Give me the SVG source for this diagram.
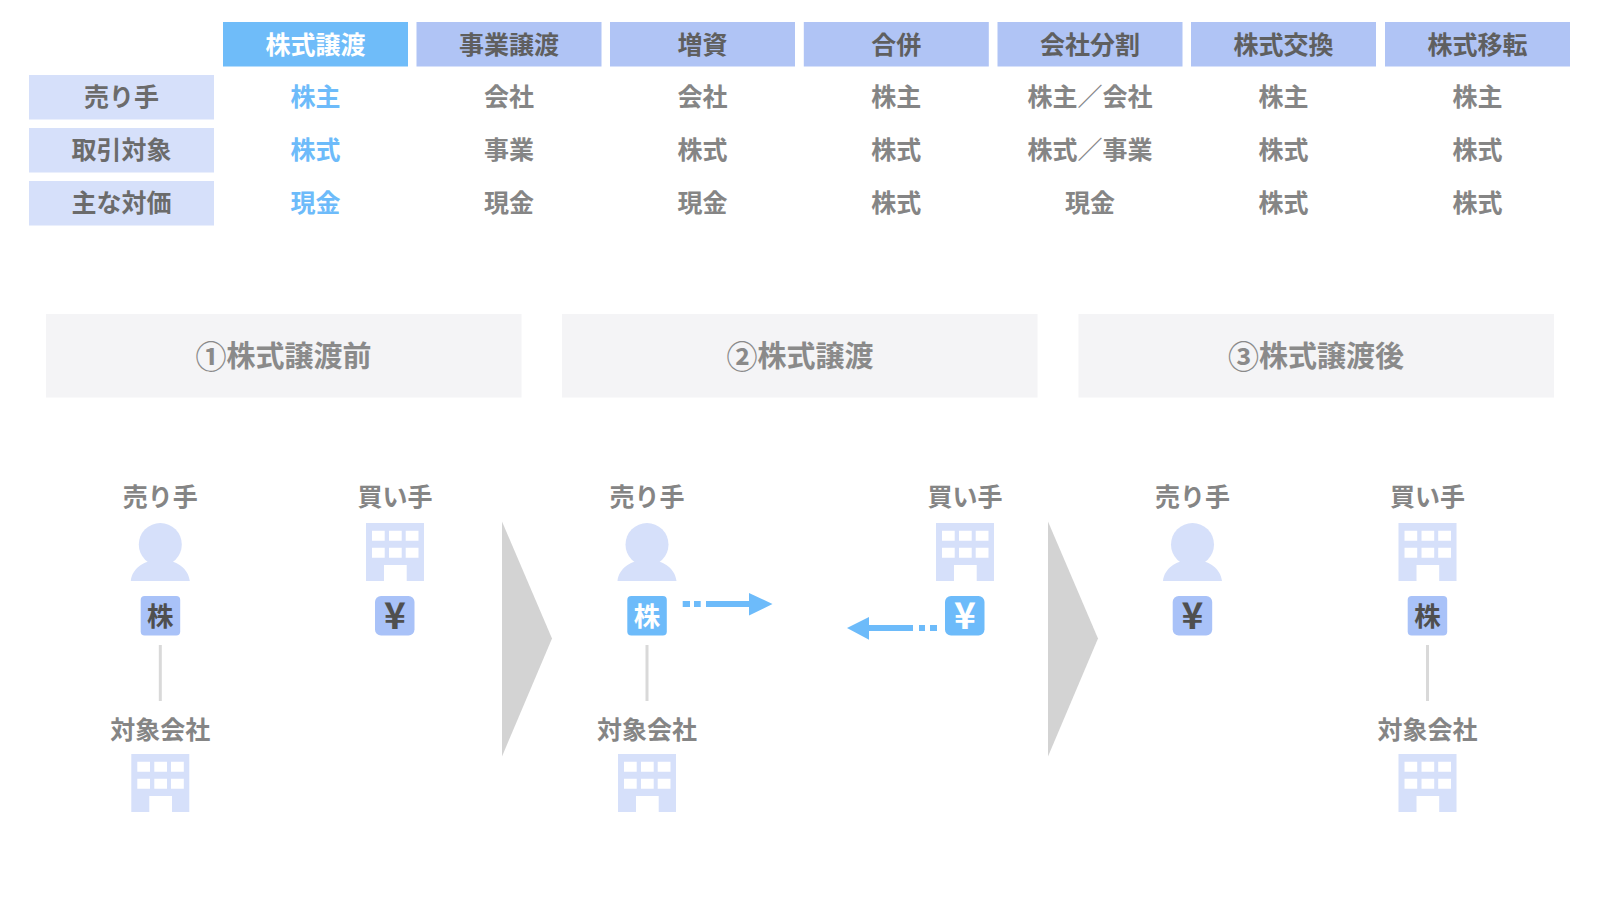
<svg xmlns="http://www.w3.org/2000/svg" xmlns:xlink="http://www.w3.org/1999/xlink" width="1600" height="900" viewBox="0 0 1600 900">
<style>
text{font-family:"Noto Sans CJK JP","Liberation Sans",sans-serif;font-weight:700;text-anchor:middle;dominant-baseline:central}
.h{font-size:25px;fill:#5f5f5f}
.hw{font-size:25px;fill:#fff}
.r{font-size:25px;fill:#6b6b6b}
.c{font-size:25px;fill:#858585}
.b{font-size:25px;fill:#6dbbfa}
.t{font-size:29px;fill:#8a8a8a}
.t tspan{font-size:31px}
.n{font-size:25px;fill:#858585}
.bd{font-size:26.500px;fill:#4f4f4f}
.bw{font-size:26.500px;fill:#fff}
.y{font-size:37px}
.hd{fill:#b0c4f5}
.hb{fill:#6fbcf9}
.rl{fill:#d6e0fa}
.p{fill:#f4f4f6}
.ch{fill:#d3d3d3}
.line{stroke:#d9d9d9;stroke-width:3;fill:none}
.bg1{fill:#a9c2f8}
.bg2{fill:#6dbbfa}
.ar{fill:#6dbbfa}
</style>
<defs>
<g id="person"><circle cx="0" cy="21.5" r="21.5" fill="#d6e0fa"/><path d="M-29.5 58C-28 45-16 38.500-7 37.500Q0 41 7 37.500C16 38.500 28 45 29.500 58Z" fill="#d6e0fa"/></g>
<g id="bldg"><path fill-rule="evenodd" fill="#d6e0fa" d="M-29 0H29V58H11.700V42H-11V58H-29ZM-23 7.700V17.700H-10.300V7.700ZM-6 7.700V17.700H6.700V7.700ZM10.700 7.700V17.700H23.500V7.700ZM-23 24.700V34.700H-10.300V24.700ZM-6 24.700V34.700H6.700V24.700ZM10.700 24.700V34.700H23.500V24.700Z"/></g>
<path id="chev" d="M0 0L50 117L0 235Z" class="ch"/>
</defs>
<g id="table">
<g id="headers">
<rect class="hb" x="223" y="22" width="185" height="44.500"/><text class="hw" x="315.500" y="42.500">株式譲渡</text>
<rect class="hd" x="416.500" y="22" width="185" height="44.500"/><text class="h" x="509" y="42.500">事業譲渡</text>
<rect class="hd" x="610" y="22" width="185" height="44.500"/><text class="h" x="702.500" y="42.500">増資</text>
<rect class="hd" x="803.800" y="22" width="185" height="44.500"/><text class="h" x="896.300" y="42.500">合併</text>
<rect class="hd" x="997.500" y="22" width="185" height="44.500"/><text class="h" x="1090" y="42.500">会社分割</text>
<rect class="hd" x="1191" y="22" width="185" height="44.500"/><text class="h" x="1283.500" y="42.500">株式交換</text>
<rect class="hd" x="1385" y="22" width="185" height="44.500"/><text class="h" x="1477.500" y="42.500">株式移転</text>
</g>
<g id="row-seller">
<rect class="rl" x="29" y="75" width="185" height="44.500"/><text class="r" x="121.500" y="95">売り手</text>
<text class="b" x="315.500" y="95">株主</text><text class="c" x="509" y="95">会社</text><text class="c" x="702.500" y="95">会社</text><text class="c" x="896.300" y="95">株主</text><text class="c" x="1090" y="95">株主／会社</text><text class="c" x="1283.500" y="95">株主</text><text class="c" x="1477.500" y="95">株主</text>
</g>
<g id="row-target">
<rect class="rl" x="29" y="128" width="185" height="44.500"/><text class="r" x="121.500" y="148">取引対象</text>
<text class="b" x="315.500" y="148">株式</text><text class="c" x="509" y="148">事業</text><text class="c" x="702.500" y="148">株式</text><text class="c" x="896.300" y="148">株式</text><text class="c" x="1090" y="148">株式／事業</text><text class="c" x="1283.500" y="148">株式</text><text class="c" x="1477.500" y="148">株式</text>
</g>
<g id="row-price">
<rect class="rl" x="29" y="181" width="185" height="44.500"/><text class="r" x="121.500" y="201">主な対価</text>
<text class="b" x="315.500" y="201">現金</text><text class="c" x="509" y="201">現金</text><text class="c" x="702.500" y="201">現金</text><text class="c" x="896.300" y="201">株式</text><text class="c" x="1090" y="201">現金</text><text class="c" x="1283.500" y="201">株式</text><text class="c" x="1477.500" y="201">株式</text>
</g>
</g>
<g id="panel-1"><rect class="p" x="46" y="314" width="475.500" height="83.500"/><text class="t" x="283.500" y="354"><tspan>①</tspan>株式譲渡前</text></g>
<g id="panel-2"><rect class="p" x="562" y="314" width="475.500" height="83.500"/><text class="t" x="800" y="354"><tspan>②</tspan>株式譲渡</text></g>
<g id="panel-3"><rect class="p" x="1078.500" y="314" width="475.500" height="83.500"/><text class="t" x="1316" y="354"><tspan>③</tspan>株式譲渡後</text></g>
<g id="connectors">
<line class="line" x1="160.300" y1="645" x2="160.300" y2="701"/>
<line class="line" x1="647" y1="645" x2="647" y2="701"/>
<line class="line" x1="1427.500" y1="645" x2="1427.500" y2="701"/>
<g id="arrow-share" class="ar"><rect x="682.700" y="601" width="7.300" height="6"/><rect x="694" y="601" width="6.700" height="6"/><rect x="706" y="601" width="44" height="6"/><path d="M749 593L772.500 604L749 615.500Z"/></g>
<g id="arrow-cash" class="ar"><rect x="919" y="625" width="6" height="6"/><rect x="930" y="625" width="7" height="6"/><rect x="868" y="625" width="45" height="6"/><path d="M869 617L847 628L869 639.700Z"/></g>
</g>
<use id="chevron-1" href="#chev" xlink:href="#chev" x="502" y="521.500"/>
<use id="chevron-2" href="#chev" xlink:href="#chev" x="1048" y="521.500"/>
<g id="s1-seller"><text class="n" x="160.300" y="495">売り手</text><use href="#person" xlink:href="#person" x="160.300" y="523"/><rect class="bg1" x="140.700" y="596" width="39.500" height="39.500" rx="4"/><text class="bd" x="160.300" y="614.500">株</text></g>
<g id="s1-buyer"><text class="n" x="395" y="495">買い手</text><use href="#bldg" xlink:href="#bldg" x="395" y="523"/><rect class="bg1" x="375" y="596" width="39.500" height="39.500" rx="6"/><text class="bd y" x="394.800" y="613">¥</text></g>
<g id="s1-target"><text class="n" x="160.300" y="728">対象会社</text><use href="#bldg" xlink:href="#bldg" x="160.300" y="754"/></g>
<g id="s2-seller"><text class="n" x="647" y="495">売り手</text><use href="#person" xlink:href="#person" x="647" y="523"/><rect class="bg2" x="627.300" y="596" width="39.500" height="39.500" rx="4"/><text class="bw" x="647" y="614.500">株</text></g>
<g id="s2-buyer"><text class="n" x="965" y="495">買い手</text><use href="#bldg" xlink:href="#bldg" x="965" y="523"/><rect class="bg2" x="945" y="596" width="39.500" height="39.500" rx="6"/><text class="bw y" x="964.800" y="613">¥</text></g>
<g id="s2-target"><text class="n" x="647" y="728">対象会社</text><use href="#bldg" xlink:href="#bldg" x="647" y="754"/></g>
<g id="s3-seller"><text class="n" x="1192.500" y="495">売り手</text><use href="#person" xlink:href="#person" x="1192.500" y="523"/><rect class="bg1" x="1172.700" y="596" width="39.500" height="39.500" rx="6"/><text class="bd y" x="1192.500" y="613">¥</text></g>
<g id="s3-buyer"><text class="n" x="1427.500" y="495">買い手</text><use href="#bldg" xlink:href="#bldg" x="1427.500" y="523"/><rect class="bg1" x="1407.700" y="596" width="39.500" height="39.500" rx="4"/><text class="bd" x="1427.500" y="614.500">株</text></g>
<g id="s3-target"><text class="n" x="1427.500" y="728">対象会社</text><use href="#bldg" xlink:href="#bldg" x="1427.500" y="754"/></g>
</svg>
